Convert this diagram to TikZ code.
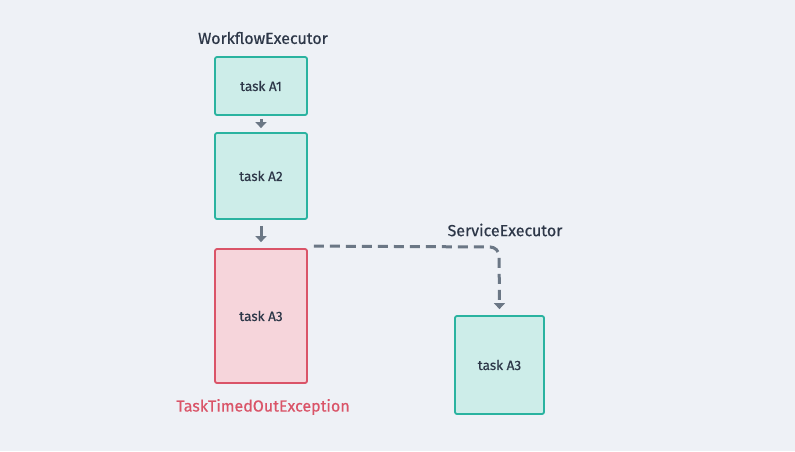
\documentclass[tikz,border=0pt]{standalone}
\usepackage{fontspec}
\setmainfont{Fira Sans}[FakeBold=0.5]
\usetikzlibrary{arrows.meta}
\definecolor{bg}{HTML}{EEF1F6}
\definecolor{tealfill}{HTML}{CDEDE9}
\definecolor{tealline}{HTML}{2AB3A0}
\definecolor{redfill}{HTML}{F6D5DB}
\definecolor{redline}{HTML}{DA5468}
\definecolor{txt}{HTML}{2D3748}
\definecolor{arr}{HTML}{6B7785}
\tikzset{
  okbox/.style={draw=tealline, fill=tealfill, line width=1.8pt, rounded corners=2pt, font=\fontsize{13.5}{15}\selectfont, text=txt, inner sep=0pt},
  badbox/.style={draw=redline, fill=redfill, line width=1.8pt, rounded corners=2pt, font=\fontsize{13.5}{15}\selectfont, text=txt, inner sep=0pt},
  lbl/.style={font=\fontsize{16}{18}\selectfont, text=txt, inner sep=0pt},
  conn/.style={draw=arr, line width=3pt, -{Triangle[length=6pt,width=11pt]}},
}
\begin{document}
\begin{tikzpicture}[x=1pt,y=-1pt]
\useasboundingbox[fill=bg] (0,0) rectangle (795,451);
\node[okbox, minimum width=92pt, minimum height=58pt] (a1) at (261,86) {task A1};
\node[okbox, minimum width=92pt, minimum height=86pt] (a2) at (261,176) {task A2};
\node[badbox, minimum width=92pt, minimum height=134pt] (a3) at (261,316) {task A3};
\node[okbox, minimum width=89pt, minimum height=98pt] (s3) at (499.5,365) {task A3};
\node[lbl] (wf) at (263,38) {WorkflowExecutor};
\node[lbl] (se) at (505,230) {ServiceExecutor};
\node[lbl, text=redline] (ex) at (263,407) {TaskTimedOutException};
\coordinate (c1) at (499,247);
\draw[conn] ([yshift=-3pt]a1.south) -- ([yshift=4pt]a2.north);
\draw[conn] ([yshift=-6pt]a2.south) -- ([yshift=6pt]a3.north);
\draw[conn, dash pattern=on 10pt off 6pt, rounded corners=9pt] ([xshift=6pt,yshift=2pt]a3.north east) -- (c1) -- ([yshift=6pt]s3.north);
\end{tikzpicture}
\end{document}
